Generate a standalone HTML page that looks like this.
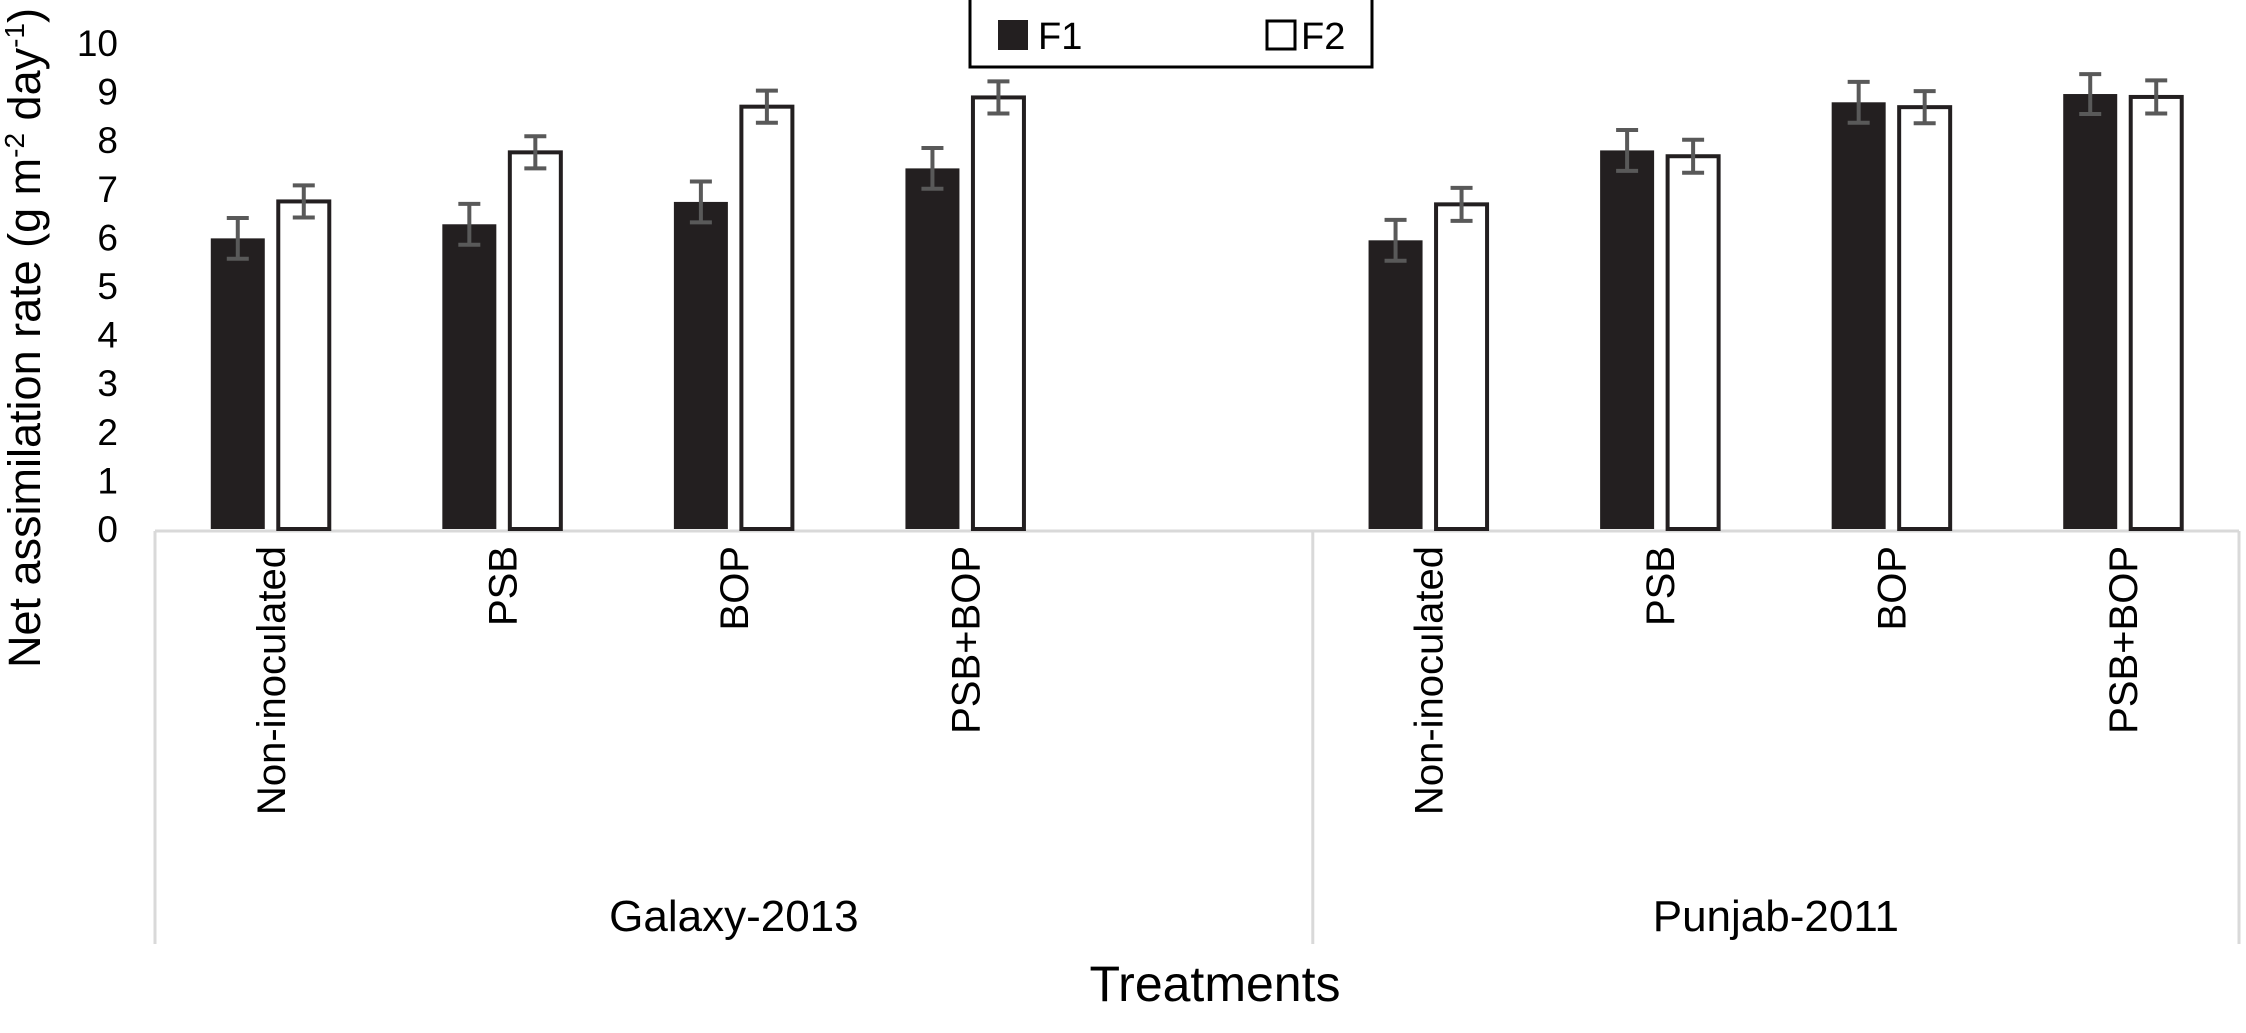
<!DOCTYPE html>
<html><head><meta charset="utf-8"><style>
html,body{margin:0;padding:0;background:#fff;}
svg text{font-family:"Liberation Sans",Arial,sans-serif;fill:#000;}
</style></head><body>
<svg width="2246" height="1028" viewBox="0 0 2246 1028">
<g id="axes"></g>
<g id="bars"></g>
<g id="legend">
  <rect x="970" y="-2" width="402" height="69" fill="#fff" stroke="#000" stroke-width="3"/>
  <rect x="998" y="20" width="30" height="30" fill="#231f20"/>
  <text x="1038" y="49" font-size="38">F1</text>
  <rect x="1267" y="21" width="28" height="28" fill="#fff" stroke="#000" stroke-width="3"/>
  <text x="1301" y="49" font-size="38">F2</text>
</g>
<text transform="translate(40,338) rotate(-90)" text-anchor="middle" font-size="45">Net assimilation rate (g m<tspan font-size="28" dy="-16">-2</tspan><tspan dy="16"> day</tspan><tspan font-size="28" dy="-16">-1</tspan><tspan dy="16">)</tspan></text>
<text x="1215" y="1001" text-anchor="middle" font-size="50">Treatments</text>
</svg>
<script>
const categories = ["Non-inoculated","PSB","BOP","PSB+BOP","","Non-inoculated","PSB","BOP","PSB+BOP"];
const groups = ["Galaxy-2013","Punjab-2011"];
const groupSizes = [5,4];
const f1Values = [5.98,6.27,6.73,7.42,null,5.94,7.79,8.78,8.95];
const f2Values = [6.74,7.75,8.69,8.88,null,6.68,7.67,8.68,8.89];
const f1Errors = [0.42,0.42,0.42,0.42,null,0.42,0.42,0.42,0.41];
const f2Errors = [0.33,0.33,0.33,0.33,null,0.34,0.34,0.33,0.34];
const yTicks = [0,1,2,3,4,5,6,7,8,9,10];

const NS="http://www.w3.org/2000/svg";
const x0=155, x1=2239, base=529, unit=48.6;
const slotW=(x1-x0)/categories.length;
function y(v){return base-v*unit;}
function slotC(i){return x0+slotW*(i+0.5);}
function mk(tag,attrs,parent){const e=document.createElementNS(NS,tag);for(const k in attrs)e.setAttribute(k,attrs[k]);parent.appendChild(e);return e;}
const axes=document.getElementById('axes'), bars=document.getElementById('bars');

yTicks.forEach(t=>{
  const e=mk('text',{x:118,y:y(t)+13,'text-anchor':'end','font-size':37},axes);
  
  
  e.textContent=t;
});
const bl=mk('line',{x1:x0,x2:x1,y1:base+2,y2:base+2,stroke:'#d9d9d9','stroke-width':3},axes);


let acc=0;
const dividers=[0];
groupSizes.forEach(s=>{acc+=s;dividers.push(acc);});
dividers.forEach(d=>{
  const xx=x0+d*slotW;
  const l=mk('line',{x1:xx,x2:xx,y1:base+2,y2:944,stroke:'#d9d9d9','stroke-width':3},axes);
  
  
});
groups.forEach((g,gi)=>{
  const cx=x0+(dividers[gi]+dividers[gi+1])/2*slotW;
  const t=mk('text',{x:cx,y:931,'text-anchor':'middle','font-size':44},axes);
  
  
  t.textContent=g;
});
categories.forEach((c,i)=>{
  if(!c)return;
  const cx=slotC(i)+14;
  const t=mk('text',{transform:`translate(${cx},546) rotate(-90)`,'text-anchor':'end','font-size':40},axes);
  
  
  t.textContent=c;
});
const bw=54, gap=12;
categories.forEach((c,i)=>{
  if(f1Values[i]==null)return;
  const cx=slotC(i);
  const bx1=cx-gap/2-bw, bx2=cx+gap/2;
  const r1=mk('rect',{x:bx1,y:y(f1Values[i]),width:bw,height:base-y(f1Values[i]),fill:'#231f20'},bars);
  
  
  const r2=mk('rect',{x:bx2+1.5,y:y(f2Values[i]),width:bw-3,height:base-y(f2Values[i]),fill:'#fff',stroke:'#231f20','stroke-width':4},bars);
  
  
  [[bx1+bw/2,f1Values[i],f1Errors[i]],[bx2+bw/2,f2Values[i],f2Errors[i]]].forEach(([ex,v,er])=>{
    const g=mk('g',{stroke:'#595959','stroke-width':4},bars);
    
    
    mk('line',{x1:ex,x2:ex,y1:y(v+er),y2:y(v-er)},g);
    mk('line',{x1:ex-11,x2:ex+11,y1:y(v+er),y2:y(v+er)},g);
    mk('line',{x1:ex-11,x2:ex+11,y1:y(v-er),y2:y(v-er)},g);
  });
});
</script>
</body></html>
